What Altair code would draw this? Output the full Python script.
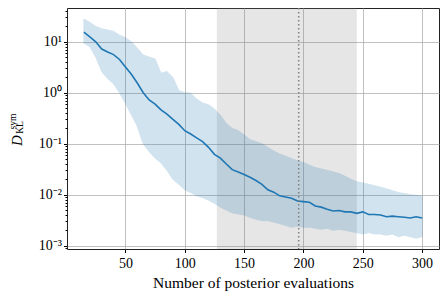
import altair as alt
import pandas as pd

evals = [15, 20, 25, 30, 35, 40, 45, 50, 55, 60, 65, 70, 75, 80, 85, 90, 95, 100,
         105, 110, 115, 120, 125, 130, 135, 140, 145, 150, 155, 160, 165, 170, 175,
         180, 185, 190, 195, 200, 205, 210, 215, 220, 225, 230, 235, 240, 245, 250,
         255, 260, 265, 270, 275, 280, 285, 290, 295, 300]
median = [15.5, 12.5, 10.0, 7.2, 6.3, 5.6, 4.5, 3.2, 2.3, 1.55, 1.0, 0.72, 0.60, 0.46,
          0.38, 0.30, 0.24, 0.18, 0.155, 0.13, 0.11, 0.085, 0.062, 0.052, 0.040, 0.031,
          0.028, 0.025, 0.022, 0.019, 0.016, 0.0125, 0.0112, 0.0095, 0.0090, 0.0085,
          0.0075, 0.0073, 0.0071, 0.0060, 0.0057, 0.0052, 0.0048, 0.0049, 0.0046,
          0.0046, 0.0043, 0.0046, 0.0041, 0.0041, 0.0040, 0.0037, 0.0038, 0.0037,
          0.0036, 0.0035, 0.0037, 0.0035]
upper = [28, 24, 20, 18, 17, 16, 13.5, 12, 10, 7.5, 5.5, 5.0, 4.6, 2.4, 2.6, 2.0, 1.1,
         1.0, 0.98, 0.75, 0.63, 0.58, 0.48, 0.36, 0.25, 0.20, 0.18, 0.15, 0.12, 0.11,
         0.10, 0.085, 0.072, 0.063, 0.057, 0.051, 0.046, 0.043, 0.038, 0.034, 0.032,
         0.030, 0.028, 0.026, 0.023, 0.020, 0.018, 0.017, 0.016, 0.015, 0.014, 0.013,
         0.012, 0.011, 0.0105, 0.010, 0.0097, 0.0094]
lower = [9.4, 8.0, 5.0, 2.6, 1.9, 1.5, 1.0, 0.62, 0.37, 0.22, 0.10, 0.07, 0.052, 0.042,
         0.030, 0.020, 0.016, 0.0125, 0.011, 0.0095, 0.0088, 0.0078, 0.0068, 0.0057,
         0.0050, 0.0044, 0.0042, 0.0040, 0.0036, 0.0033, 0.0031, 0.0031, 0.0029, 0.0027,
         0.0025, 0.0023, 0.0024, 0.0023, 0.0023, 0.0022, 0.0021, 0.0022, 0.0020, 0.0021,
         0.0020, 0.0019, 0.0018, 0.0017, 0.0018, 0.0017, 0.0017, 0.0016, 0.0017, 0.0015,
         0.0016, 0.0015, 0.0014, 0.0015]

span_start, span_end = 127, 245
vline_x = 196

x_ticks = [50, 100, 150, 200, 250, 300]
y_ticks = [9e-4,
           1e-3, 2e-3, 3e-3, 4e-3, 5e-3, 6e-3, 7e-3, 8e-3, 9e-3,
           1e-2, 2e-2, 3e-2, 4e-2, 5e-2, 6e-2, 7e-2, 8e-2, 9e-2,
           1e-1, 2e-1, 3e-1, 4e-1, 5e-1, 6e-1, 7e-1, 8e-1, 9e-1,
           1, 2, 3, 4, 5, 6, 7, 8, 9,
           10, 20, 30, 40]

df = pd.DataFrame({"n": evals, "median": median, "lo": lower, "hi": upper})

FONT = "Liberation Serif"
W, H = 372, 241
xscale = alt.Scale(domain=[0.75, 314.25], nice=False, zero=False)
yscale = alt.Scale(type="log", domain=[8.6e-4, 46], nice=False)

DEC = "abs(log(datum.value)/LN10 - round(log(datum.value)/LN10)) < 0.001"
EXP = "round(log(datum.value)/LN10)"
label_expr = (
    f"!({DEC}) ? '' : ({EXP} == 1 ? '10¹' : {EXP} == 0 ? '10⁰' : "
    f"{EXP} == -1 ? '10⁻¹' : {EXP} == -2 ? '10⁻²' : {EXP} == -3 ? '10⁻³' : '')"
)

xaxis = alt.Axis(values=x_ticks, title="Number of posterior evaluations",
                 grid=True, gridColor="#b0b0b0", gridWidth=0.8, domain=False,
                 tickColor="black", tickSize=3.5, labelFont=FONT, labelFontSize=14,
                 labelColor="black", labelPadding=4, titleFont=FONT, titleFontSize=15.5,
                 titleFontWeight="normal", titleColor="black", titlePadding=5)
yaxis = alt.Axis(values=y_ticks, title=None, labelExpr=label_expr,
                 grid=True, gridColor="#b0b0b0", gridWidth=0.8,
                 gridOpacity={"condition": {"test": DEC, "value": 1}, "value": 0},
                 tickSize={"condition": {"test": DEC, "value": 3.5}, "value": 2},
                 domain=False, tickColor="black", labelFont=FONT, labelFontSize=14,
                 labelColor="black", labelPadding=2)

span = alt.Chart(pd.DataFrame({"a": [span_start], "b": [span_end]})).mark_rect(
    color="gray", opacity=0.2
).encode(x=alt.X("a:Q", scale=xscale, axis=xaxis), x2="b:Q")

band = alt.Chart(df).mark_area(
    color="#1f77b4", opacity=0.2, stroke="#1f77b4", strokeWidth=1
).encode(
    x=alt.X("n:Q", scale=xscale, axis=xaxis),
    y=alt.Y("lo:Q", scale=yscale, axis=yaxis),
    y2="hi:Q",
)

line = alt.Chart(df).mark_line(color="#1f77b4", strokeWidth=1.6).encode(
    x=alt.X("n:Q", scale=xscale, axis=xaxis),
    y=alt.Y("median:Q", scale=yscale, axis=yaxis),
)

vline = alt.Chart(pd.DataFrame({"v": [vline_x]})).mark_rule(
    color="gray", strokeDash=[1.5, 2.5], strokeWidth=1.5
).encode(x=alt.X("v:Q", scale=xscale, axis=xaxis))

t_d = alt.Chart(pd.DataFrame({"t": ["D"]})).mark_text(
    font=FONT, fontSize=15, fontStyle="italic", angle=270, align="center",
    baseline="middle", color="black"
).encode(text="t:N", x=alt.value(-50.5), y=alt.value(132.5))
t_sym = alt.Chart(pd.DataFrame({"t": ["sym"]})).mark_text(
    font=FONT, fontSize=9.5, angle=270, align="center", baseline="middle", color="black"
).encode(text="t:N", x=alt.value(-54.5), y=alt.value(113.5))
t_kl = alt.Chart(pd.DataFrame({"t": ["KL"]})).mark_text(
    font=FONT, fontSize=9.5, angle=270, align="center", baseline="middle", color="black"
).encode(text="t:N", x=alt.value(-47.5), y=alt.value(119.5))

chart = alt.layer(span, band, line, vline, t_d, t_sym, t_kl).properties(
    width=W, height=H,
    autosize=alt.AutoSizeParams(type="none"),
    padding={"left": 59, "top": 0, "right": 1, "bottom": 48},
).configure_view(stroke="#222", strokeWidth=1)

chart.save("out.html", embed_options={"renderer": "svg", "actions": False})
